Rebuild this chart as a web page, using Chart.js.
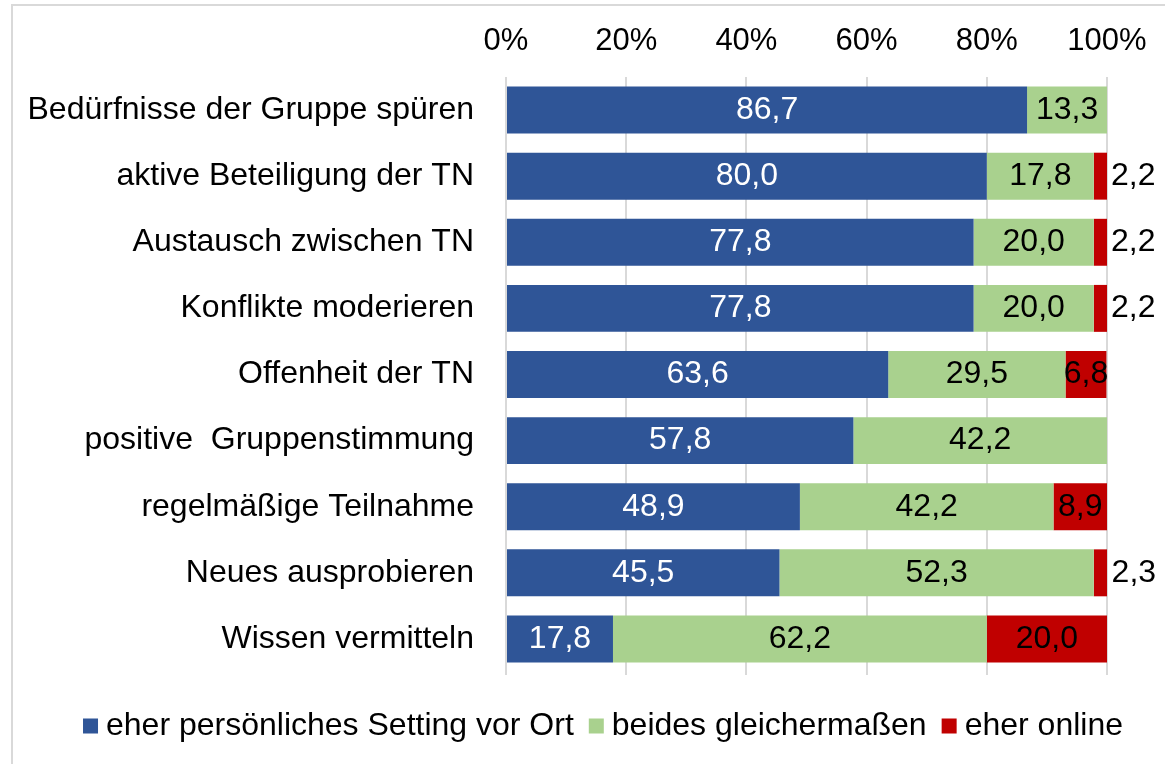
<!DOCTYPE html>
<html>
<head>
<meta charset="utf-8">
<script src="https://cdn.jsdelivr.net/npm/chart.js@4"></script>
<style>
  html, body { margin: 0; padding: 0; background: #fff; overflow: hidden; }
  .frame { position: absolute; left: 11px; top: 4px; width: 1200px; height: 800px; border: 2px solid #d9d9d9; box-sizing: border-box; }
  canvas { position: absolute; left: 0; top: 0; }
</style>
</head>
<body>
<div class="frame"></div>
<canvas id="chart" width="1165" height="764"></canvas>
<script>
// categories and series (percent)
const categories = [
  'Bedürfnisse der Gruppe spüren',
  'aktive Beteiligung der TN',
  'Austausch zwischen TN',
  'Konflikte moderieren',
  'Offenheit der TN',
  'positive  Gruppenstimmung',
  'regelmäßige Teilnahme',
  'Neues ausprobieren',
  'Wissen vermitteln',
];
const persoenlich = [86.7, 80.0, 77.8, 77.8, 63.6, 57.8, 48.9, 45.5, 17.8];
const beides = [13.3, 17.8, 20.0, 20.0, 29.5, 42.2, 42.2, 52.3, 62.2];
const online = [null, 2.2, 2.2, 2.2, 6.8, null, 8.9, 2.3, 20.0];
const tickValues = [0, 20, 40, 60, 80, 100];

const FONT = 'Liberation Sans, Arial, sans-serif';

// draw value labels on the bars, small ones go right of the bar
const valueLabels = {
  id: 'valueLabels',
  afterDatasetsDraw(chart) {
    const ctx = chart.ctx;
    ctx.save();
    ctx.font = '32px ' + FONT;
    ctx.textBaseline = 'middle';
    chart.data.datasets.forEach((ds, i) => {
      chart.getDatasetMeta(i).data.forEach((bar, j) => {
        const v = ds.data[j];
        if (v === null || v === undefined) return;
        const text = v.toFixed(1).replace('.', ',');
        ctx.fillStyle = ds.labelColor;
        if (v < 5) {
          ctx.textAlign = 'left';
          ctx.fillText(text, bar.x + 4, bar.y);
        } else {
          ctx.textAlign = 'center';
          ctx.fillText(text, (bar.base + bar.x) / 2, bar.y);
        }
      });
    });
    ctx.restore();
  }
};

// grid lines reach a bit below the last bar
const gridTail = {
  id: 'gridTail',
  beforeDatasetsDraw(chart) {
    const { ctx, chartArea, scales: { x } } = chart;
    ctx.save();
    ctx.strokeStyle = '#d9d9d9';
    ctx.lineWidth = 2;
    tickValues.forEach(v => {
      const px = Math.round(x.getPixelForValue(v));
      ctx.beginPath();
      ctx.moveTo(px, chartArea.bottom);
      ctx.lineTo(px, chartArea.bottom + 3);
      ctx.stroke();
    });
    ctx.restore();
  }
};

// legend at the bottom, centered under the whole picture
const bottomLegend = {
  id: 'bottomLegend',
  afterDraw(chart) {
    const ctx = chart.ctx;
    const box = 15, gapText = 8, gapItem = 15, y = 726;
    ctx.save();
    ctx.font = '32px ' + FONT;
    ctx.textBaseline = 'middle';
    ctx.textAlign = 'left';
    const items = chart.data.datasets.map(ds => ({ ds, w: ctx.measureText(ds.label).width }));
    const total = items.reduce((s, it) => s + box + gapText + it.w, 0) + gapItem * (items.length - 1);
    let x = 603 - total / 2;
    items.forEach(({ ds, w }) => {
      ctx.fillStyle = ds.backgroundColor;
      ctx.fillRect(x, y - box / 2, box, box);
      x += box + gapText;
      ctx.fillStyle = '#000';
      ctx.fillText(ds.label, x, y);
      x += w + gapItem;
    });
    ctx.restore();
  }
};

new Chart(document.getElementById('chart'), {
  type: 'bar',
  data: {
    labels: categories,
    datasets: [
      { label: 'eher persönliches Setting vor Ort', data: persoenlich, backgroundColor: '#2f5597', labelColor: '#ffffff' },
      { label: 'beides gleichermaßen', data: beides, backgroundColor: '#a9d18e', labelColor: '#000000' },
      { label: 'eher online', data: online, backgroundColor: '#c00000', labelColor: '#000000' },
    ]
  },
  options: {
    indexAxis: 'y',
    responsive: false,
    animation: false,
    datasets: { bar: { categoryPercentage: 1, barPercentage: 0.71 } },
    layout: { padding: { left: 0, right: 58, top: 0, bottom: 92 } },
    plugins: {
      tooltip: { enabled: false },
      legend: { display: false },
    },
    scales: {
      x: {
        position: 'top',
        stacked: true,
        min: 0,
        max: 100,
        afterBuildTicks: (scale) => { scale.ticks = tickValues.map(v => ({ value: v })); },
        afterFit: (scale) => { scale.height = 77; },
        ticks: {
          color: '#000',
          font: { family: FONT, size: 31 },
          padding: 17,
          callback: (v) => v + '%',
        },
        grid: { color: '#d9d9d9', lineWidth: 2, drawTicks: false },
        border: { display: false },
      },
      y: {
        stacked: true,
        afterFit: (scale) => { scale.width = 506; },
        ticks: {
          color: '#000',
          font: { family: FONT, size: 32 },
          padding: 24,
        },
        grid: { display: false },
        border: { display: false },
      },
    },
  },
  plugins: [valueLabels, gridTail, bottomLegend],
});
</script>
</body>
</html>
